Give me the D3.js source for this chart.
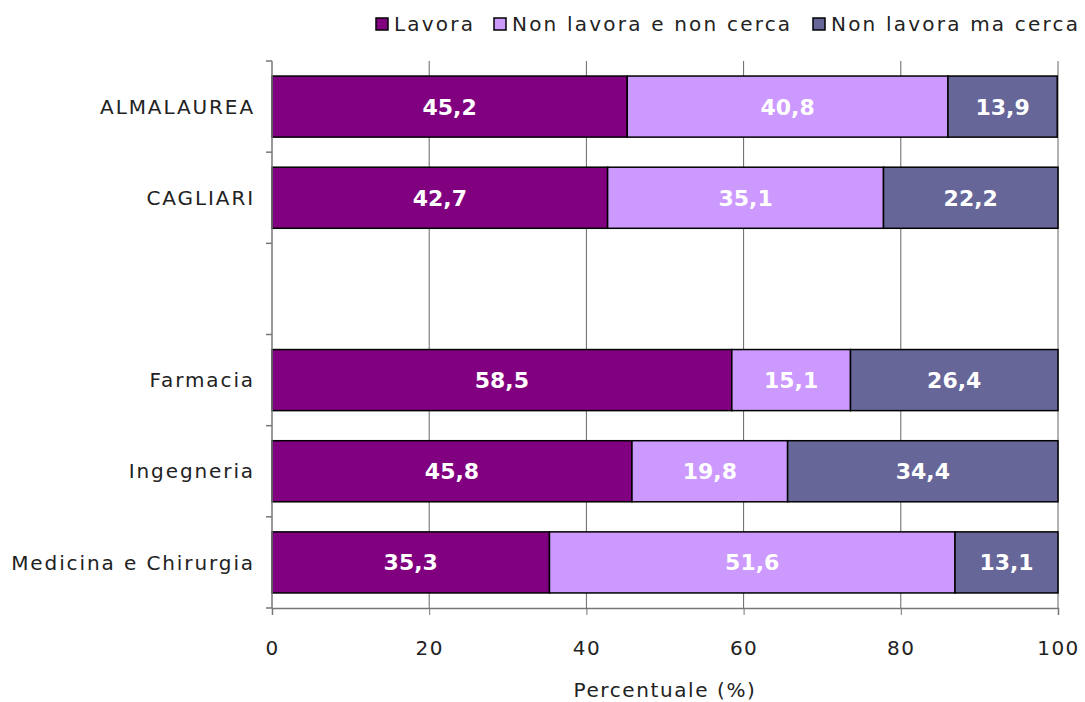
<!DOCTYPE html>
<html><head><meta charset="utf-8">
<script src="https://cdn.jsdelivr.net/npm/d3@7"></script>
<style>body{margin:0;background:#fff;} svg{display:block;font-family:"DejaVu Sans",sans-serif;}</style>
</head><body><svg id="c" width="1085" height="702"></svg>
<script>
const categories = ["ALMALAUREA","CAGLIARI","","Farmacia","Ingegneria","Medicina e Chirurgia"];
const seriesNames = ["Lavora","Non lavora e non cerca","Non lavora ma cerca"];
const lavora = [45.2,42.7,null,58.5,45.8,35.3];
const nonCerca = [40.8,35.1,null,15.1,19.8,51.6];
const maCerca = [13.9,22.2,null,26.4,34.4,13.1];
const xTicks = [0,20,40,60,80,100];
const colors = ["#800080","#CC99FF","#666699"];

const svg = d3.select("#c");
const m = {l:272, r:1058, t:61, b:608};
const x = d3.scaleLinear().domain([0,100]).range([m.l,m.r]);
const keys = categories.map((c,i)=>"k"+i);
const y = d3.scaleBand().domain(keys).range([m.t,m.b]).paddingInner(0.33).paddingOuter(0.165);

// gridlines
svg.append("g").selectAll("line").data(xTicks.filter(d=>d>0)).join("line")
  .attr("x1",d=>x(d)).attr("x2",d=>x(d)).attr("y1",m.t).attr("y2",m.b)
  .attr("stroke","#666").attr("stroke-width",1);

// bars
const rows = categories.map((c,i)=>({key:keys[i],cat:c,vals:[lavora[i],nonCerca[i],maCerca[i]]})).filter(r=>r.vals[0]!=null);
const segs = [];
rows.forEach(r=>{let acc=0; r.vals.forEach((v,j)=>{segs.push({key:r.key,x0:acc,x1:acc+v,v,j}); acc+=v;});});
svg.append("g").selectAll("rect").data(segs).join("rect")
  .attr("x",d=>x(d.x0)).attr("width",d=>x(Math.min(d.x1,100))-x(d.x0))
  .attr("y",d=>y(d.key)).attr("height",y.bandwidth())
  .attr("fill",d=>colors[d.j]).attr("stroke","#000").attr("stroke-width",1.5);
svg.append("g").selectAll("text").data(segs).join("text")
  .attr("x",d=>(x(d.x0)+x(Math.min(d.x1,100)))/2).attr("y",d=>y(d.key)+y.bandwidth()/2)
  .attr("dy","0.36em").attr("text-anchor","middle").attr("fill","#fff")
  .attr("font-weight","bold").attr("font-size",22)
  .text(d=>d3.format(".1f")(d.v).replace(".",","));

// left axis
const bounds = d3.range(categories.length+1).map(i=>m.t+i*(m.b-m.t)/categories.length);
svg.append("line").attr("x1",m.l).attr("x2",m.l).attr("y1",m.t).attr("y2",m.b).attr("stroke","#777").attr("stroke-width",1.5);
svg.append("g").selectAll("line").data(bounds).join("line")
  .attr("x1",m.l-6).attr("x2",m.l).attr("y1",d=>d).attr("y2",d=>d).attr("stroke","#777").attr("stroke-width",1.5);
svg.append("g").selectAll("text").data(categories.map((c,i)=>({c,k:keys[i]})).filter(d=>d.c)).join("text")
  .attr("x",m.l-17).attr("y",d=>y(d.k)+y.bandwidth()/2).attr("dy","0.36em")
  .attr("text-anchor","end").attr("font-size",20).attr("letter-spacing",1.9).attr("fill","#222").text(d=>d.c);

// bottom axis
const ax = svg.append("g").attr("transform",`translate(0,${m.b})`)
  .call(d3.axisBottom(x).tickValues(xTicks).tickSize(7).tickPadding(26).tickFormat(d3.format("d")));
ax.select(".domain").attr("stroke","#777").attr("stroke-width",1.5);
ax.selectAll(".tick line").attr("stroke","#777");
ax.selectAll(".tick text").attr("font-size",20).attr("letter-spacing",1.5).attr("fill","#222").attr("font-family","DejaVu Sans");
svg.append("text").attr("x",(m.l+m.r)/2).attr("y",697).attr("text-anchor","middle")
  .attr("font-size",20).attr("letter-spacing",1.6).attr("fill","#222").text("Percentuale (%)");

// legend
const legX = [376,494,813];
const lg = svg.append("g").selectAll("g").data(seriesNames).join("g")
  .attr("transform",(d,i)=>`translate(${legX[i]},24)`);
lg.append("rect").attr("x",0).attr("y",-6).attr("width",12).attr("height",12)
  .attr("fill",(d,i)=>colors[i]).attr("stroke","#000").attr("stroke-width",1.5);
lg.append("text").attr("x",18).attr("y",0).attr("dy","0.36em").attr("font-size",20).attr("letter-spacing",2.2).attr("fill","#222").text(d=>d);
</script></body></html>
